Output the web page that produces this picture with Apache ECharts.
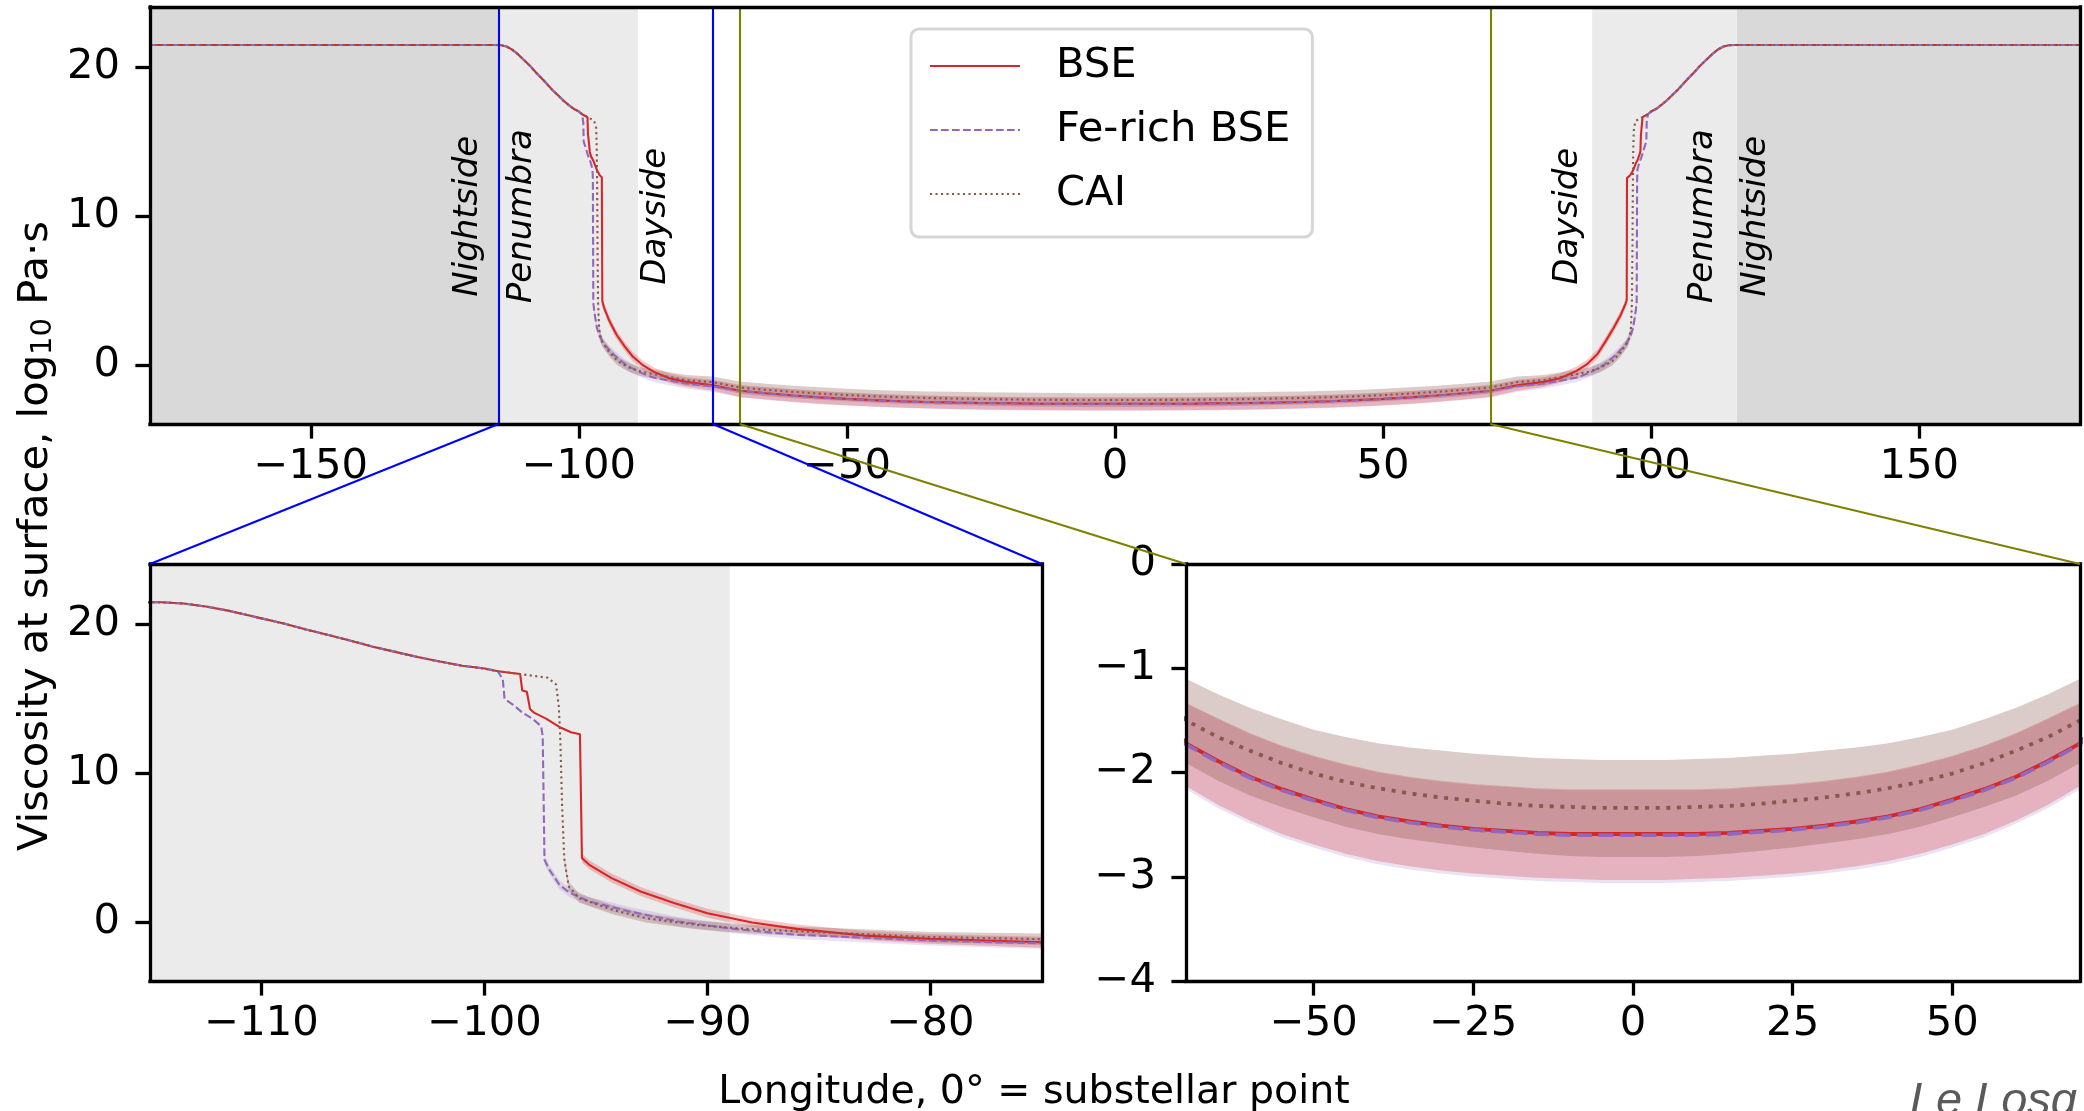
<!DOCTYPE html>
<html><head><meta charset="utf-8">
<script src="https://cdn.jsdelivr.net/npm/echarts@6/dist/echarts.min.js"></script>
<style>html,body{margin:0;padding:0;background:#fff}#c{width:2084px;height:1111px}</style>
</head><body><div id="c"></div>
<script>
// ---------------- DATA ----------------
const seriesNames = ['BSE', 'Fe-rich BSE', 'CAI'];

// shared nightside / penumbra part (all three compositions coincide)
const commonLLon = [-180,-115.5,-114.5,-113.5,-112.5,-111.5,-110.5,-110,-109,-108,-107,-106,-105,-104,-103,-102,-101,-100,-99.4];
const commonLVal = [21.5,21.5,21.48,21.4,21.2,20.92,20.58,20.4,20.05,19.65,19.28,18.9,18.5,18.15,17.8,17.5,17.22,17.03,16.85];
const commonRLon = [99.4,100,101,102,103,104,105,106,107,108,109,110,110.5,111.5,112.5,113.5,114.5,115.5,180];
const commonRVal = [16.85,17.03,17.22,17.5,17.8,18.15,18.5,18.9,19.28,19.65,20.05,20.4,20.58,20.92,21.2,21.4,21.48,21.5,21.5];

// dayside middle part
const midLon = [-70,-65,-60,-55,-50,-45,-40,-35,-30,-25,-20,-15,-10,-5,0,5,10,15,20,25,30,35,40,45,50,55,60,65,70];

// BSE
const bseUpLLon = [-98.4,-98.31,-98.1,-97.96,-97.76,-97.24,-96.57,-96.12,-95.72];
const bseUpLVal = [16.66,15.56,15.47,14.32,14.05,13.67,13.05,12.75,12.62];
const bseDayLLon = [-95.63,-95.3,-94.3,-93,-91.5,-90,-88,-86,-83,-80,-77.5,-75];
const bseDayLVal = [4.30,3.85,2.96,2.06,1.28,0.60,-0.02,-0.45,-0.90,-1.12,-1.24,-1.35];
const bseDayLHi  = [4.60,4.15,3.26,2.36,1.58,0.90,0.28,-0.15,-0.58,-0.79,-0.89,-0.98];
const bseDayLLo  = [4.00,3.55,2.66,1.76,0.98,0.30,-0.32,-0.75,-1.20,-1.45,-1.58,-1.72];
const bseMid   = [-1.72,-1.89,-2.04,-2.16,-2.26,-2.35,-2.42,-2.47,-2.51,-2.54,-2.56,-2.58,-2.59,-2.59,-2.59,-2.59,-2.59,-2.58,-2.56,-2.54,-2.51,-2.47,-2.42,-2.35,-2.26,-2.16,-2.04,-1.89,-1.72];
const bseMidHi = [-1.33,-1.48,-1.62,-1.74,-1.84,-1.92,-1.99,-2.04,-2.08,-2.11,-2.13,-2.15,-2.16,-2.16,-2.16,-2.16,-2.16,-2.15,-2.13,-2.11,-2.08,-2.04,-1.99,-1.92,-1.84,-1.74,-1.62,-1.48,-1.33];
const bseMidLo = [-2.13,-2.31,-2.46,-2.59,-2.69,-2.78,-2.85,-2.90,-2.94,-2.97,-2.99,-3.01,-3.02,-3.03,-3.03,-3.03,-3.02,-3.01,-2.99,-2.97,-2.94,-2.90,-2.85,-2.78,-2.69,-2.59,-2.46,-2.31,-2.13];
const bseDayRLon = [75,77.5,80,83,86,88,90,91.5,93,94.3,95.2,95.45];
const bseDayRVal = [-1.35,-1.24,-1.12,-0.88,-0.40,0.05,0.75,1.60,2.50,3.35,4.10,4.35];
const bseDayRHi  = [-0.98,-0.89,-0.79,-0.56,-0.10,0.35,1.05,1.90,2.80,3.65,4.40,4.65];
const bseDayRLo  = [-1.72,-1.58,-1.45,-1.18,-0.70,-0.25,0.45,1.30,2.20,3.05,3.80,4.05];
const bseUpRLon = [95.5,96.1,96.6,97.2,97.5,97.8,98.0,98.1,98.3,98.4];
const bseUpRVal = [12.56,12.75,13.05,13.6,13.8,14.1,14.35,15.45,15.55,16.66];

// Fe-rich BSE
const feUpLLon = [-99.18,-99.10,-98.73,-98.28,-97.84,-97.46,-97.39];
const feUpLVal = [16.30,15.0,14.61,14.05,13.65,13.16,12.48];
const feDayLLon = [-97.31,-97.09,-96.64,-96.19,-95.3,-93.5,-91.3,-89,-87,-85.9,-83,-80,-77.5,-75];
const feDayLVal = [4.19,3.52,2.51,1.99,1.39,0.72,0.04,-0.42,-0.72,-0.85,-1.04,-1.23,-1.33,-1.42];
const feDayLHi  = [4.49,3.82,2.81,2.29,1.69,1.02,0.34,-0.12,-0.42,-0.55,-0.72,-0.89,-0.97,-1.04];
const feDayLLo  = [3.89,3.22,2.21,1.69,1.09,0.42,-0.26,-0.72,-1.02,-1.15,-1.36,-1.57,-1.69,-1.80];
const feMid   = [-1.73,-1.90,-2.05,-2.17,-2.27,-2.36,-2.43,-2.48,-2.52,-2.55,-2.57,-2.59,-2.60,-2.60,-2.60,-2.60,-2.60,-2.59,-2.57,-2.55,-2.52,-2.48,-2.43,-2.36,-2.27,-2.17,-2.05,-1.90,-1.73];
const feMidHi = [-1.34,-1.49,-1.63,-1.75,-1.85,-1.93,-2.00,-2.05,-2.09,-2.12,-2.14,-2.16,-2.17,-2.17,-2.17,-2.17,-2.17,-2.16,-2.14,-2.12,-2.09,-2.05,-2.00,-1.93,-1.85,-1.75,-1.63,-1.49,-1.34];
const feMidLo = [-2.16,-2.34,-2.49,-2.62,-2.72,-2.81,-2.88,-2.93,-2.97,-3.00,-3.02,-3.04,-3.05,-3.06,-3.06,-3.06,-3.05,-3.04,-3.02,-3.00,-2.97,-2.93,-2.88,-2.81,-2.72,-2.62,-2.49,-2.34,-2.16];
const feDayRLon = [75,77.5,80,83,85.9,87,89,91.3,93.5,95.3,96.19,96.64,97.09,97.31];
const feDayRVal = [-1.42,-1.33,-1.23,-1.04,-0.85,-0.72,-0.42,0.04,0.72,1.39,1.99,2.51,3.52,4.19];
const feDayRHi  = [-1.04,-0.97,-0.89,-0.72,-0.55,-0.42,-0.12,0.34,1.02,1.69,2.29,2.81,3.82,4.49];
const feDayRLo  = [-1.80,-1.69,-1.57,-1.36,-1.15,-1.02,-0.72,-0.26,0.42,1.09,1.69,2.21,3.22,3.89];
const feUpRLon = [97.39,97.46,97.84,98.28,98.73,99.10,99.18];
const feUpRVal = [12.48,13.16,13.65,14.05,14.61,15.0,16.30];

// CAI
const caiUpLLon = [-98.4,-97.16,-96.79,-96.67,-96.6,-96.52];
const caiUpLVal = [16.66,16.41,15.96,14.5,12.26,7.78];
const caiDayLLon = [-96.42,-96.22,-95.75,-94.25,-92.76,-90.52,-88.28,-86.5,-83,-80,-77.5,-75];
const caiDayLVal = [4.19,2.40,1.61,0.83,0.27,-0.18,-0.45,-0.58,-0.80,-1.00,-1.07,-1.14];
const caiDayLHi  = [4.49,2.70,1.91,1.13,0.57,0.12,-0.15,-0.28,-0.48,-0.66,-0.71,-0.76];
const caiDayLLo  = [3.89,2.10,1.31,0.53,-0.03,-0.48,-0.75,-0.88,-1.12,-1.34,-1.43,-1.52];
const caiMid   = [-1.50,-1.66,-1.79,-1.91,-2.01,-2.09,-2.15,-2.20,-2.24,-2.27,-2.30,-2.32,-2.33,-2.34,-2.34,-2.34,-2.33,-2.32,-2.30,-2.27,-2.24,-2.20,-2.15,-2.09,-2.01,-1.91,-1.79,-1.66,-1.50];
const caiMidHi = [-1.10,-1.25,-1.38,-1.49,-1.59,-1.66,-1.72,-1.76,-1.79,-1.82,-1.84,-1.86,-1.87,-1.88,-1.88,-1.88,-1.87,-1.86,-1.84,-1.82,-1.79,-1.76,-1.72,-1.66,-1.59,-1.49,-1.38,-1.25,-1.10];
const caiMidLo = [-1.91,-2.08,-2.22,-2.33,-2.43,-2.52,-2.59,-2.64,-2.68,-2.72,-2.75,-2.78,-2.80,-2.81,-2.81,-2.81,-2.80,-2.78,-2.75,-2.72,-2.68,-2.64,-2.59,-2.52,-2.43,-2.33,-2.22,-2.08,-1.91];
const caiDayRLon = [75,77.5,80,83,86.5,88.28,90.52,92.76,94.25,95.75,96.22,96.42];
const caiDayRVal = [-1.14,-1.07,-1.00,-0.80,-0.58,-0.45,-0.18,0.27,0.83,1.61,2.40,4.19];
const caiDayRHi  = [-0.76,-0.71,-0.66,-0.48,-0.28,-0.15,0.12,0.57,1.13,1.91,2.70,4.49];
const caiDayRLo  = [-1.52,-1.43,-1.34,-1.12,-0.88,-0.75,-0.48,-0.03,0.53,1.31,2.10,3.89];
const caiUpRLon = [96.52,96.6,96.67,96.79,97.16,98.4];
const caiUpRVal = [7.78,12.26,14.5,15.96,16.41,16.66];

// shaded regions (longitude spans)
const nightSpans = [[-180,-115],[116,180]];
const penumbraSpans = [[-115,-89],[89,116]];
// zoom windows
const zoomLeftSpan = [-115,-75];
const zoomRightSpan = [-70,70];
// region labels
const regionText = ['Nightside','Penumbra','Dayside','Dayside','Penumbra','Nightside'];
const regionLon  = [-120.6,-110.5,-85.5,84.55,109.65,119.6];
const regionVal  = [10,10,10,10,10,10];
// axis ranges and ticks
const xRanges = [[-180,180],[-115,-75],[-70,70]];
const yRanges = [[-3.95,24.05],[-3.95,24.05],[-4,0]];
const xTicks = [[-150,-100,-50,0,50,100,150],[-110,-100,-90,-80],[-50,-25,0,25,50]];
const yTicks = [[0,10,20],[0,10,20],[-4,-3,-2,-1,0]];

// ---------------- BUILD ----------------
const pairs = (a,b) => a.map((x,i)=>[x,b[i]]);
const cat = (...p) => [].concat(...p);

const lines = {
  'BSE': cat(pairs(commonLLon,commonLVal),pairs(bseUpLLon,bseUpLVal),pairs(bseDayLLon,bseDayLVal),pairs(midLon,bseMid),pairs(bseDayRLon,bseDayRVal),pairs(bseUpRLon,bseUpRVal),pairs(commonRLon,commonRVal)),
  'Fe-rich BSE': cat(pairs(commonLLon,commonLVal),pairs(feUpLLon,feUpLVal),pairs(feDayLLon,feDayLVal),pairs(midLon,feMid),pairs(feDayRLon,feDayRVal),pairs(feUpRLon,feUpRVal),pairs(commonRLon,commonRVal)),
  'CAI': cat(pairs(commonLLon,commonLVal),pairs(caiUpLLon,caiUpLVal),pairs(caiDayLLon,caiDayLVal),pairs(midLon,caiMid),pairs(caiDayRLon,caiDayRVal),pairs(caiUpRLon,caiUpRVal),pairs(commonRLon,commonRVal))
};
const bands = {
  'BSE': {lon: cat(bseDayLLon,midLon,bseDayRLon), lo: cat(bseDayLLo,bseMidLo,bseDayRLo), hi: cat(bseDayLHi,bseMidHi,bseDayRHi)},
  'Fe-rich BSE': {lon: cat(feDayLLon,midLon,feDayRLon), lo: cat(feDayLLo,feMidLo,feDayRLo), hi: cat(feDayLHi,feMidHi,feDayRHi)},
  'CAI': {lon: cat(caiDayLLon,midLon,caiDayRLon), lo: cat(caiDayLLo,caiMidLo,caiDayRLo), hi: cat(caiDayLHi,caiMidHi,caiDayRHi)}
};

const styleOf = {
  'BSE': {color:'#d62728', band:'rgba(214,39,40,0.25)', dash: g => 'solid'},
  'Fe-rich BSE': {color:'#9467bd', band:'rgba(148,103,189,0.2)', dash: g => g===2 ? [15,6.5] : [7.7,3.3]},
  'CAI': {color:'#8c564b', band:'rgba(140,86,75,0.3)', dash: g => g===2 ? [4,6.6] : [2.1,3.4]}
};
const FONT = 'DejaVu Sans';
const fmt = v => v < 0 ? '\u2212' + Math.abs(v) : String(v);

const grids = [
  {left:150, top:7, width:1930, height:417, outerBoundsMode:'none', containLabel:false},
  {left:150, top:564, width:892, height:417, outerBoundsMode:'none', containLabel:false},
  {left:1186, top:564, width:894, height:417, outerBoundsMode:'none', containLabel:false}
];

const xAxes = [], yAxes = [];
for (let g=0; g<3; g++) {
  xAxes.push({type:'value', gridIndex:g, min:xRanges[g][0], max:xRanges[g][1], position:'bottom', z:50,
    axisLine:{show:true, onZero:false, lineStyle:{color:'#000', width:3.3, cap:'square'}},
    axisTick:{show:true, inside:false, length:14.6, customValues:xTicks[g], lineStyle:{color:'#000', width:3.3}},
    axisLabel:{show:true, customValues:xTicks[g], margin:22, color:'#000', fontSize:41.7, fontFamily:FONT, formatter:fmt},
    splitLine:{show:false}});
  yAxes.push({type:'value', gridIndex:g, min:yRanges[g][0], max:yRanges[g][1], position:'left', z:50,
    axisLine:{show:true, onZero:false, lineStyle:{color:'#000', width:3.3, cap:'square'}},
    axisTick:{show:true, inside:false, length:14.6, customValues:yTicks[g], lineStyle:{color:'#000', width:3.3}},
    axisLabel:{show:true, customValues:yTicks[g], margin:30, color:'#000', fontSize:41.7, fontFamily:FONT, formatter:fmt},
    splitLine:{show:false}});
}
for (let g=0; g<3; g++) {
  xAxes.push({type:'value', gridIndex:g, min:xRanges[g][0], max:xRanges[g][1], position:'top', z:50,
    axisLine:{show:true, onZero:false, lineStyle:{color:'#000', width:3.3, cap:'square'}},
    axisTick:{show:false}, axisLabel:{show:false}, splitLine:{show:false}});
  yAxes.push({type:'value', gridIndex:g, min:yRanges[g][0], max:yRanges[g][1], position:'right', z:50,
    axisLine:{show:true, onZero:false, lineStyle:{color:'#000', width:3.3, cap:'square'}},
    axisTick:{show:false}, axisLabel:{show:false}, splitLine:{show:false}});
}

const series = [];
// shading
const shadeArea = (spans, color) => spans.map(s => [{xAxis:s[0], itemStyle:{color}}, {xAxis:s[1]}]);
series.push({type:'line', name:'shade0', xAxisIndex:0, yAxisIndex:0, data:[], z:1, silent:true,
  markArea:{silent:true, data: cat(shadeArea(nightSpans,'#d9d9d9'), shadeArea(penumbraSpans,'#ebebeb'))}});
series.push({type:'line', name:'shade1', xAxisIndex:1, yAxisIndex:1, data:[], z:1, silent:true,
  markArea:{silent:true, data: shadeArea(penumbraSpans,'#ebebeb')}});

// uncertainty bands: one polygon per band, built through the axes (api.coord)
const bandOrder = ['Fe-rich BSE','BSE','CAI'];
for (let g=0; g<3; g++) {
  bandOrder.forEach(n => {
    const b = bands[n];
    const fill = styleOf[n].band;
    series.push({type:'custom', name:n+' band', xAxisIndex:g, yAxisIndex:g, z:2, silent:true,
      data: b.lon.map((x,i)=>[x, b.lo[i], b.hi[i]]),
      encode:{x:0, y:[1,2]},
      renderItem: (params, api) => {
        if (params.dataIndex !== 0) return;
        const pts = [];
        for (let i=0; i<b.lon.length; i++) pts.push(api.coord([b.lon[i], b.hi[i]]));
        for (let i=b.lon.length-1; i>=0; i--) pts.push(api.coord([b.lon[i], b.lo[i]]));
        const cs = params.coordSys;
        return {type:'polygon', shape:{points:pts}, style:{fill:fill, stroke:null},
          clipPath:{type:'rect', shape:{x:cs.x, y:cs.y, width:cs.width, height:cs.height}}};
      }});
  });
}
for (let g=0; g<3; g++) {
  seriesNames.forEach(n => {
    series.push({type:'line', name:n, xAxisIndex:g, yAxisIndex:g, data: lines[n], symbol:'none', showSymbol:false,
      color: styleOf[n].color,
      lineStyle:{color:styleOf[n].color, width: g===2 ? 3.8 : 2.1, type: styleOf[n].dash(g)}, z:3, silent:true});
  });
}
// region labels
series.push({type:'custom', name:'regions', xAxisIndex:0, yAxisIndex:0, z:5, silent:true,
  data: regionLon.map((x,i)=>[x, regionVal[i]]),
  renderItem: (params, api) => {
    const p = api.coord([api.value(0), api.value(1)]);
    return {type:'text', x:p[0], y:p[1], rotation:Math.PI/2,
      style:{text: regionText[params.dataIndex], font:'italic 34px "DejaVu Sans"', fill:'#000', align:'center', verticalAlign:'middle'}};
  }});
// zoom window vertical lines
series.push({type:'line', name:'zoomLines', xAxisIndex:0, yAxisIndex:0, data:[], z:4, silent:true,
  markLine:{silent:true, symbol:'none', label:{show:false}, lineStyle:{width:2.1, type:'solid'},
    data:[{xAxis:zoomLeftSpan[0], lineStyle:{color:'#0000ff'}}, {xAxis:zoomLeftSpan[1], lineStyle:{color:'#0000ff'}},
          {xAxis:zoomRightSpan[0], lineStyle:{color:'#808000'}}, {xAxis:zoomRightSpan[1], lineStyle:{color:'#808000'}}]}});
series.push({type:'line', name:'zoomEdges', xAxisIndex:0, yAxisIndex:0, data:[], z:60, silent:true,
  markLine:{silent:true, symbol:'none', label:{show:false}, lineStyle:{width:3, type:'solid'},
    data:[[{coord:[zoomLeftSpan[0], yRanges[0][0]], lineStyle:{color:'#0000ff'}}, {coord:[zoomLeftSpan[1], yRanges[0][0]]}],
          [{coord:[zoomRightSpan[0], yRanges[0][0]], lineStyle:{color:'#808000'}}, {coord:[zoomRightSpan[1], yRanges[0][0]]}]]}});

const option = {
  animation:false,
  backgroundColor:'#fff',
  grid: grids, xAxis: xAxes, yAxis: yAxes, series,
  legend:{data: seriesNames, orient:'vertical', left:911, top:29, padding:[16,22,22,18], itemGap:22,
    itemWidth:90, itemHeight:20, borderColor:'#d6d6d6', borderWidth:3, borderRadius:8, backgroundColor:'#fff',
    selectedMode:false, z:100, itemStyle:{opacity:0, borderWidth:0},
    textStyle:{fontSize:41.7, color:'#000', fontFamily:FONT, rich:{g:{width:31}}},
    formatter: n => '{g| }' + n}
};

const chart = echarts.init(document.getElementById('c'), null, {renderer:'canvas', width:2084, height:1111});
chart.setOption(option);

const px = (g, pt) => chart.convertToPixel({gridIndex:g}, pt);
const conn = (a, b, color) => ({type:'line', silent:true, z:70,
  shape:{x1:a[0], y1:a[1], x2:b[0], y2:b[1]}, style:{stroke:color, lineWidth:2.1}});
chart.setOption({graphic: [
  conn(px(0,[zoomLeftSpan[0], yRanges[0][0]]), px(1,[xRanges[1][0], yRanges[1][1]]), '#0000ff'),
  conn(px(0,[zoomLeftSpan[1], yRanges[0][0]]), px(1,[xRanges[1][1], yRanges[1][1]]), '#0000ff'),
  conn(px(0,[zoomRightSpan[0], yRanges[0][0]]), px(2,[xRanges[2][0], yRanges[2][1]]), '#808000'),
  conn(px(0,[zoomRightSpan[1], yRanges[0][0]]), px(2,[xRanges[2][1], yRanges[2][1]]), '#808000'),
  {type:'text', x:36, y:536, rotation:Math.PI/2, silent:true,
    style:{text:'Viscosity at surface, log{sub|10} Pa·s', font:'41.7px "DejaVu Sans"', fill:'#000', align:'center', verticalAlign:'middle',
      rich:{sub:{fontSize:29, fontFamily:FONT, verticalAlign:'bottom', padding:[14,0,0,0]}}}},
  {type:'text', x:1034, y:1093, silent:true,
    style:{text:'Longitude, 0° = substellar point', font:'39.5px "DejaVu Sans"', fill:'#000', align:'center', verticalAlign:'middle'}},
  {type:'text', x:2077, y:1102, silent:true,
    style:{text:'Le Losq', font:'italic 47px "Liberation Sans"', fill:'#5a5a5a', align:'right', verticalAlign:'middle'}}
]});
</script></body></html>
